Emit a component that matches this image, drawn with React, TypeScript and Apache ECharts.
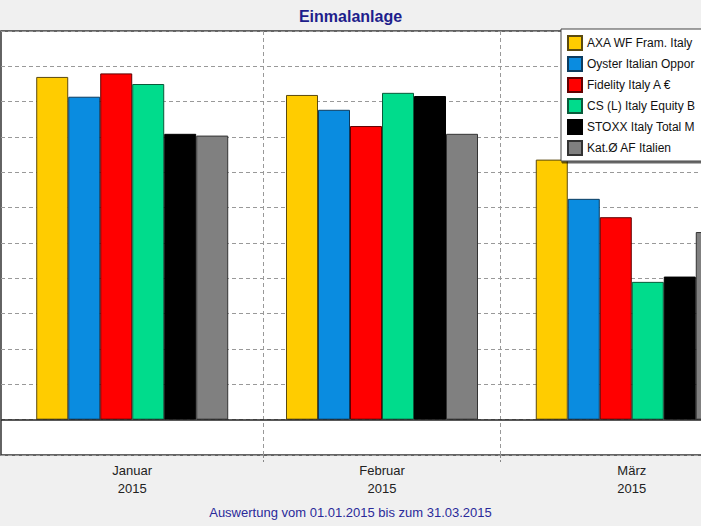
import React, { useEffect, useRef } from "react";
import * as echarts from "echarts";

// Days since 01.01.2015 – month boundaries and mid-month positions
const monthNames = ["Januar", "Februar", "März"];
const yearLabel = "2015";
const monthCenters = [15.5, 45, 74.5];
const monthBoundaries = [31, 59];
const dayRange = [0, 90];

// Legend names as far as they are visible in the (cropped) reference
const seriesNames = [
  "AXA WF Fram. Italy",
  "Oyster Italian Oppor",
  "Fidelity Italy A €",
  "CS (L) Italy Equity B",
  "STOXX Italy Total M",
  "Kat.Ø AF Italien",
];
const seriesColors = ["#FFCC00", "#0A8CE0", "#FF0000", "#00DC8C", "#000000", "#808080"];
const seriesBorders = ["#5a4a10", "#0c3c60", "#600000", "#0a5a3a", "#000000", "#333333"];

const axaValues = [9.7, 9.19, 7.36];
const oysterValues = [9.14, 8.77, 6.25];
const fidelityValues = [9.8, 8.31, 5.73];
const csValues = [9.5, 9.25, 3.9];
const stoxxValues = [8.09, 9.16, 4.05];
const katValues = [8.04, 8.09, 5.31];
const allValues = [axaValues, oysterValues, fidelityValues, csValues, stoxxValues, katValues];

const yMin = -1;
const yMax = 11;
const yInterval = 1;

const titleText = "Einmalanlage";
const footText = "Auswertung vom 01.01.2015 bis zum 31.03.2015";

const FONT = "'Liberation Sans', Arial, sans-serif";

export default function App() {
  const ref = useRef<HTMLDivElement>(null);
  useEffect(() => {
    if (!ref.current) return;
    const chart = echarts.init(ref.current, undefined, { renderer: "svg" });
    const series: any[] = allValues.map((vals, i) => ({
      name: seriesNames[i],
      type: "bar",
      barWidth: 32,
      barGap: "0%",
      data: vals.map((v, j) => [monthCenters[j], v]),
      itemStyle: { color: seriesColors[i], borderColor: seriesBorders[i], borderWidth: 1 },
      ...(i === 0
        ? {
            markLine: {
              silent: true,
              symbol: "none",
              label: { show: false },
              lineStyle: { color: "#222", type: "solid", width: 1.5 },
              data: [{ yAxis: 0 }],
            },
          }
        : {}),
    }));
    chart.setOption({
      animation: false,
      backgroundColor: "#F0F0F0",
      title: [
        {
          text: titleText,
          left: "center",
          top: 3,
          textStyle: { fontFamily: FONT, fontSize: 16, fontWeight: "bold", color: "#1E1E8C" },
        },
        {
          text: footText,
          left: "center",
          top: 501,
          textStyle: { fontFamily: FONT, fontSize: 13, fontWeight: "normal", color: "#2A2A9A" },
        },
      ],
      legend: {
        orient: "vertical",
        left: 561,
        top: 29,
        itemWidth: 14,
        itemHeight: 14,
        itemGap: 5,
        padding: [6, 40, 5, 6],
        backgroundColor: "#FFFFFF",
        borderColor: "#444",
        borderWidth: 1,
        shadowColor: "rgba(0,0,0,0.6)",
        shadowBlur: 1,
        shadowOffsetX: 1,
        shadowOffsetY: 2,
        icon: "rect",
        textStyle: { fontFamily: FONT, fontSize: 12, color: "#111" },
        data: seriesNames,
      },
      grid: {
        show: true,
        left: 1,
        top: 31,
        width: 762,
        height: 424,
        outerBoundsMode: "none",
        backgroundColor: "#FFFFFF",
        borderColor: "#333",
        borderWidth: 1.5,
        containLabel: false,
      },
      xAxis: {
        type: "value",
        min: dayRange[0],
        max: dayRange[1],
        axisLine: { show: false, onZero: false },
        axisTick: {
          show: true,
          customValues: monthBoundaries,
          length: 7,
          lineStyle: { color: "#888", type: [3, 2] },
        },
        splitLine: { show: true, lineStyle: { color: "#999", type: [4, 3], width: 1 } },
        axisLabel: {
          show: true,
          customValues: monthCenters,
          margin: 6,
          fontFamily: FONT,
          fontSize: 13,
          lineHeight: 18,
          color: "#222",
          formatter: (v: number) => {
            const idx = monthCenters.findIndex((c) => Math.abs(c - v) < 0.01);
            return idx >= 0 ? monthNames[idx] + "\n" + yearLabel : "";
          },
        },
      },
      yAxis: {
        type: "value",
        min: yMin,
        max: yMax,
        interval: yInterval,
        axisLine: { show: false },
        axisTick: { show: false },
        axisLabel: { show: false },
        splitLine: { show: true, lineStyle: { color: "#999", type: [4, 3], width: 1 } },
      },
      series,
    });
    return () => chart.dispose();
  }, []);
  return (
    <div
      ref={ref}
      style={{ position: "fixed", left: 0, top: 0, width: 701, height: 526 }}
    />
  );
}
